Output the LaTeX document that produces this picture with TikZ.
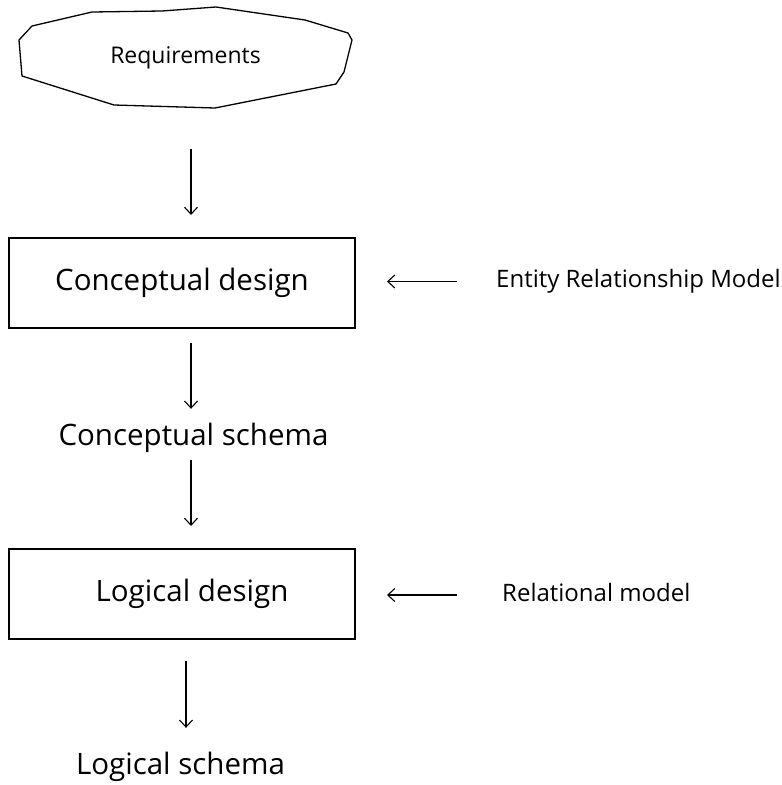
\documentclass[tikz,border=0pt]{standalone}
\usepackage{fontspec}
\setmainfont{Open Sans}
\usetikzlibrary{arrows.meta}
\begin{document}
\begin{tikzpicture}[x=1pt,y=-1pt,
  flow/.style={-{Straight Barb[length=7pt,width=13pt]}, line width=1.1pt},
  stagebox/.style={draw, line width=2pt, minimum width=346pt, minimum height=90pt,
    inner sep=0pt, font=\fontsize{29.5}{32}\selectfont},
  bigtext/.style={anchor=base, inner sep=0pt, text height=22pt, text depth=7pt,
    font=\fontsize{29.5}{32}\selectfont},
  sidetext/.style={anchor=base west, inner sep=0pt, text height=18pt, text depth=6pt,
    font=\fontsize{24}{26}\selectfont},
  reqtext/.style={minimum width=334pt, minimum height=102pt, inner sep=0pt,
    font=\fontsize{23}{25}\selectfont}]
\useasboundingbox (0,0) rectangle (782,785);

% vertical guide lines for the flow arrows
\coordinate (spine) at (191,0);
\coordinate (spinelow) at (186,0);

% requirements: an irregular polygon around its label
\node[reqtext] (req) at (185.5,58) {Requirements};
\draw[line width=1.3pt, line join=round]
  (32,26) -- (92,12) -- (162,11) -- (216,7) -- (305,20) -- (348,33) -- (352,40)
  -- (344,72) -- (336,84) -- (215,108) -- (114,105) -- (22,76) -- (19,40) -- cycle;

% design stages
\node[stagebox] (cd) at (182,283) {Conceptual design};
\node[stagebox] (ld) at (182,594) {\hspace*{20pt}Logical design};

% intermediate products
\node[bigtext] (cs) at (193.5,445) {Conceptual schema};
\node[bigtext] (ls) at (180.5,774) {Logical schema};

% models used by each stage
\node[sidetext] (erm) at (496,287.5) {Entity Relationship Model};
\node[sidetext] (rm) at (502,601) {Relational model};

% main flow
\draw[flow, shorten <=40pt, shorten >=22pt] (req.south -| spine) -- (cd.north -| spine);
\draw[flow, shorten <=14pt, shorten >=14pt] (cd.south -| spine) -- (cs.north -| spine);
\draw[flow, shorten <=8pt, shorten >=22pt] (cs.south -| spine) -- (ld.north -| spine);
\draw[flow, shorten <=21pt, shorten >=24pt] (ld.south -| spinelow) -- (ls.north -| spinelow);

% model inputs
\draw[flow, shorten <=39pt, shorten >=31pt] (erm.west) -- (erm.west -| cd.east);
\draw[flow, shorten <=45pt, shorten >=31pt] (rm.west) -- (rm.west -| ld.east);
\end{tikzpicture}
\end{document}
